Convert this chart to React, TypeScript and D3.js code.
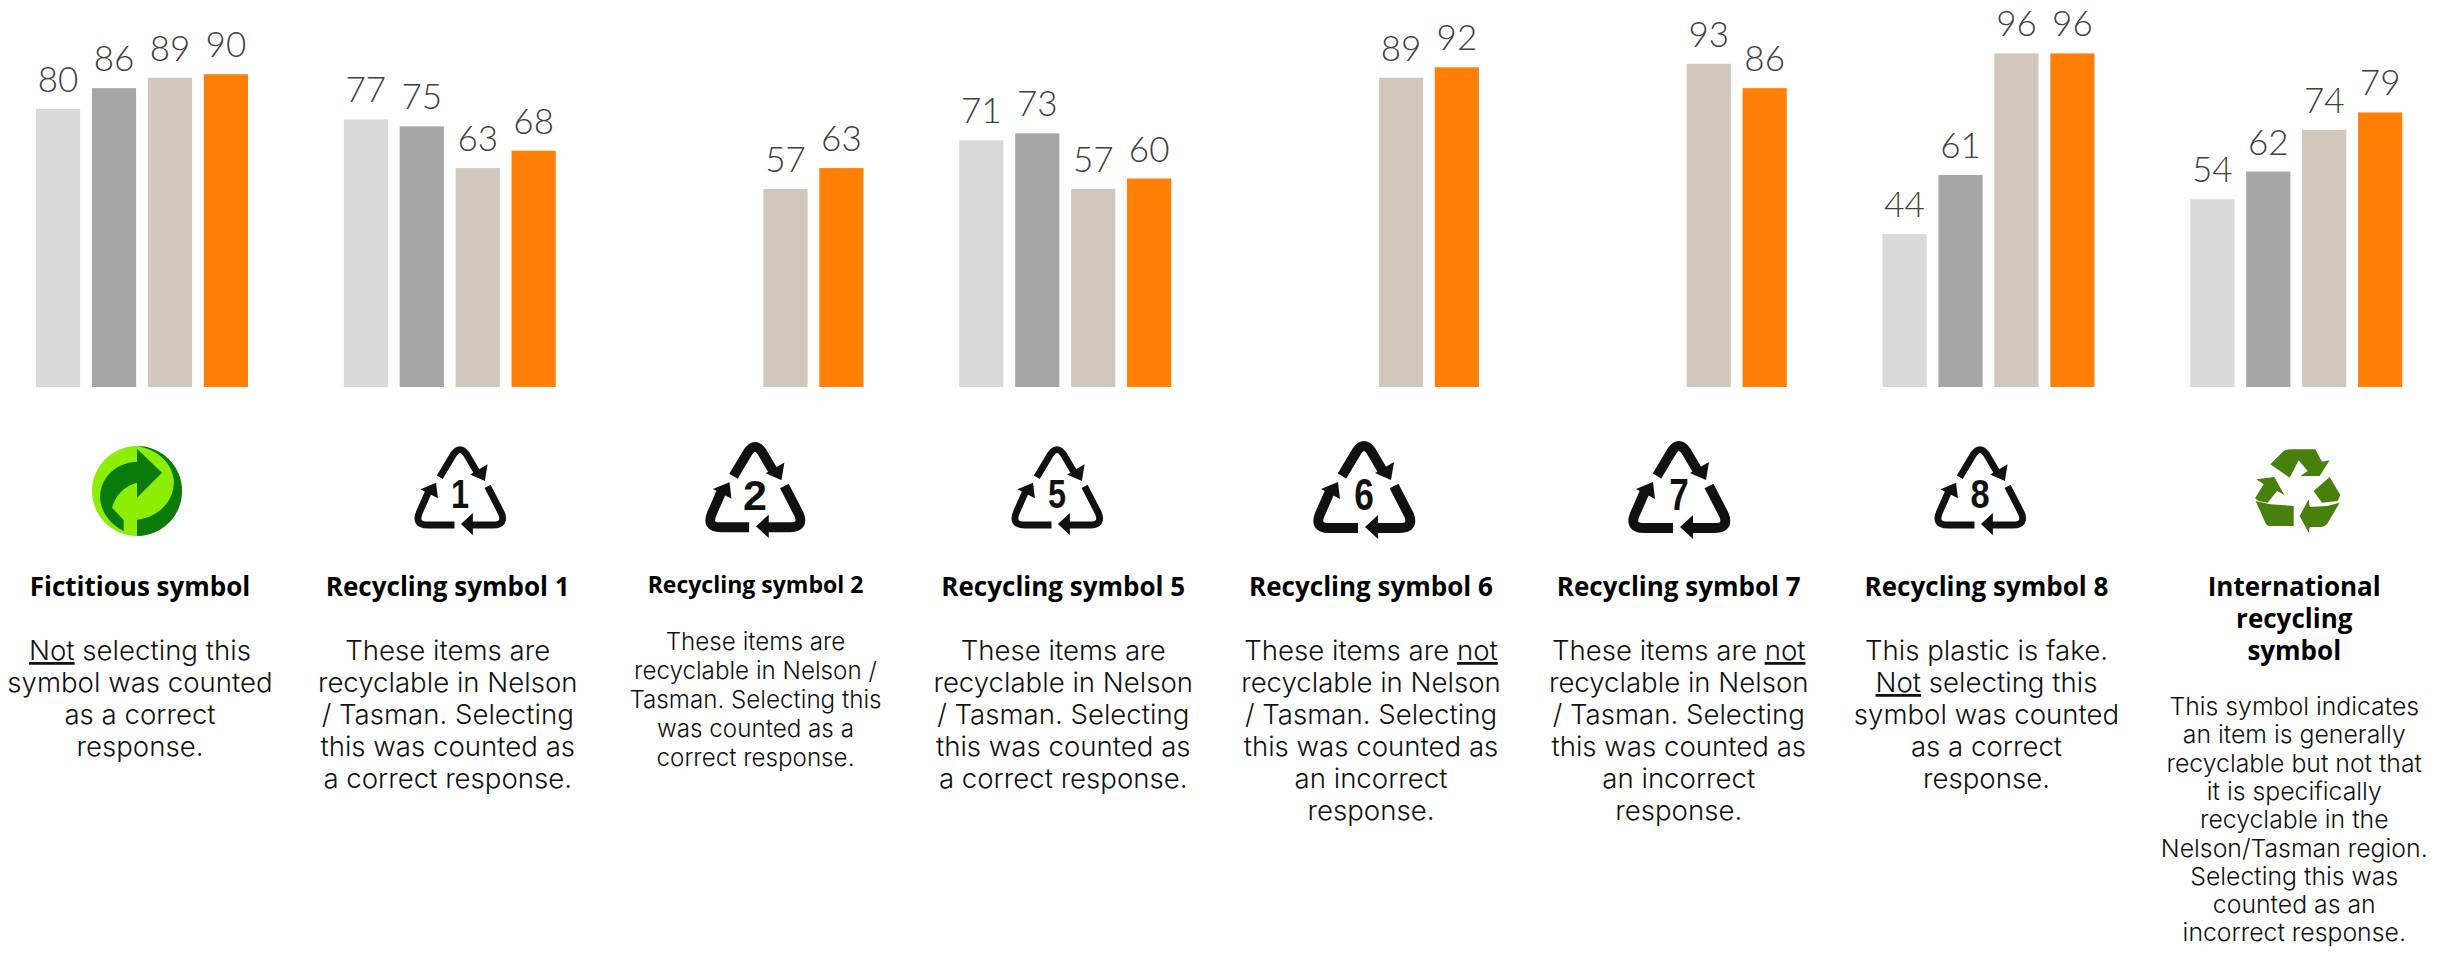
import * as d3 from "d3";

const groups = ["fictitious", "r1", "r2", "r5", "r6", "r7", "r8", "intl"];
const seriesNames = ["s1", "s2", "s3", "s4"];
const seriesColors = ["#d9d9d9", "#a6a6a6", "#d2c7bc", "#ff7f07"];

// null = no bar for that wave
const s1 = [80, 77, null, 71, null, null, 44, 54];
const s2 = [86, 75, null, 73, null, null, 61, 62];
const s3 = [89, 63, 57, 57, 89, 93, 96, 74];
const s4 = [90, 68, 63, 60, 92, 86, 96, 79];
const seriesValues = [s1, s2, s3, s4];

const titles = [
  ["Fictitious symbol"],
  ["Recycling symbol 1"],
  ["Recycling symbol 2"],
  ["Recycling symbol 5"],
  ["Recycling symbol 6"],
  ["Recycling symbol 7"],
  ["Recycling symbol 8"],
  ["International", "recycling", "symbol"],
];

// segments marked with _ are underlined
const descriptions = [
  ["_Not_ selecting this", "symbol was counted", "as a correct", "response."],
  ["These items are", "recyclable in Nelson", "/ Tasman. Selecting", "this was counted as", "a correct response."],
  ["These items are", "recyclable in Nelson /", "Tasman. Selecting this", "was counted as a", "correct response."],
  ["These items are", "recyclable in Nelson", "/ Tasman. Selecting", "this was counted as", "a correct response."],
  ["These items are _not_", "recyclable in Nelson", "/ Tasman. Selecting", "this was counted as", "an incorrect", "response."],
  ["These items are _not_", "recyclable in Nelson", "/ Tasman. Selecting", "this was counted as", "an incorrect", "response."],
  ["This plastic is fake.", "_Not_ selecting this", "symbol was counted", "as a correct", "response."],
  ["This symbol indicates", "an item is generally", "recyclable but not that", "it is specifically", "recyclable in the", "Nelson/Tasman region.", "Selecting this was", "counted as an", "incorrect response."],
];

const symbolNumbers = [null, "1", "2", "5", "6", "7", "8", null];

// symbol layout, not data
const symbolCx = [137, 460, 755, 1057, 1364, 1679, 1980, 2297];
const symbolScale = [1, 0.92, 0.98, 0.92, 1, 1, 0.92, 1];
const symbolStroke = [0, 7.5, 10, 7.5, 10, 10, 7.5, 0];
const digitSqueeze = [1, 0.8, 1, 0.8, 0.8, 0.8, 0.85, 1];
const symbolCy = 491;

const fontBody = "'Inter', 'Open Sans', sans-serif";
const fontTitle = "'Open Sans', sans-serif";
const fontNum = "'Lato', sans-serif";

const x0 = d3.scaleBand().domain(groups).range([36, 2498]);
const x1 = d3.scaleBand().domain(seriesNames).range([0, 212]).paddingInner(0.21);
const y = d3.scaleLinear().domain([0, 100]).range([387, 39.5]);

function Underlined({ line }: { line: string }) {
  const parts = line.split("_");
  return (
    <>
      {parts.map((p, i) => (
        <tspan key={i} textDecoration={i % 2 === 1 ? "underline" : undefined}>{p}</tspan>
      ))}
    </>
  );
}

function PlasticSymbol({ cx, cy, s, w, squeeze, label }: { cx: number; cy: number; s: number; w: number; squeeze: number; label: string }) {
  return (
    <g transform={`translate(${cx},${cy}) scale(${s})`}>
      <g fill="none" stroke="#111" strokeWidth={w}>
        <path d="M-22,-15 L-7,-40 Q0,-50 7,-40 L20,-18" />
        <path d="M30,-5 L45,24 Q50,37 36,37 L8,37" />
        <path d="M-6,37 L-35,37 Q-50,37 -44,23 L-33,-2" />
      </g>
      <g fill="#111">
        <path d="M27,-11 L30,-29 L11,-18 Z" />
        <path d="M1,36 L14,24 L14,48 Z" />
        <path d="M-26,-9 L-43,-2 L-24,8 Z" />
      </g>
      <text transform={`translate(0,19) scale(${squeeze},1)`} textAnchor="middle" fontFamily="'Liberation Sans', sans-serif" fontWeight={700} fontSize={44} fill="#111">{label}</text>
    </g>
  );
}

function GreenDot({ cx, cy }: { cx: number; cy: number }) {
  return (
    <g transform={`translate(${cx},${cy}) scale(0.3333) translate(-230,-185)`}>
      <circle cx={230} cy={185} r={135} fill="#8ced05" />
      <path d="M230,50 A135,135 0 0 1 230,320 L230,272 C300,262 345,210 340,150 C335,100 290,60 230,50 Z" fill="#0a7a0a" />
      <path d="M190,305 C140,280 110,230 122,180 C135,130 180,98 230,98 L230,58 L305,130 L230,205 L230,160 C190,170 165,200 155,235 L190,272 Z" fill="#0a7a0a" />
    </g>
  );
}

function InternationalSymbol({ cx, cy }: { cx: number; cy: number }) {
  return (
    <g transform={`translate(${cx},${cy}) scale(0.3333) translate(-740,-210)`} fill="#47800a">
      <path d="M660,130 L700,90 Q708,85 720,85 L795,85 L815,122 L838,118 L808,165 L750,165 L772,150 L745,118 L718,170 Z" />
      <path d="M790,210 L838,168 L870,222 L862,240 L815,245 Z" />
      <path d="M868,245 L830,310 Q822,318 812,318 L778,318 L775,335 L748,285 L775,235 L778,258 L830,255 Z" />
      <path d="M614,232 L640,190 L618,175 L672,168 L702,222 L680,210 L652,245 L625,240 Z" />
      <path d="M616,240 L660,250 L730,255 L730,315 L660,315 Q650,315 645,305 Z" />
    </g>
  );
}

export default function App() {
  return (
    <svg width={2445} height={953} style={{ position: "absolute", left: 0, top: 0, background: "#fff" }}>
      {groups.map((g, gi) => {
        const gx = x0(g)!;
        const center = gx + 104;
        const small = gi === 2;
        const intl = gi === 7;
        const titleY = small ? 593 : 596;
        const titleSize = small ? 23 : 26;
        const bodyStart = intl ? 715 : small ? 650 : 660;
        const bodyStep = small ? 29 : intl ? 28.3 : 32;
        const bodySize = small ? 24.2 : intl ? 24.8 : 27.6;
        const num = symbolNumbers[gi];
        return (
          <g key={g}>
            {seriesNames.map((s, si) => {
              const v = seriesValues[si][gi];
              if (v === null) return null;
              const bx = gx + x1(s)!;
              return (
                <g key={s}>
                  <rect x={bx} y={y(v)} width={x1.bandwidth()} height={y(0) - y(v)} fill={seriesColors[si]} />
                  <text x={bx + x1.bandwidth() / 2} y={y(v) - 17} textAnchor="middle" fontFamily={fontNum} fontWeight={300} fontSize={35} fill="#404040">{v}</text>
                </g>
              );
            })}
            {num !== null && (
              <PlasticSymbol cx={symbolCx[gi]} cy={symbolCy} s={symbolScale[gi]} w={symbolStroke[gi]} squeeze={digitSqueeze[gi]} label={num} />
            )}
            {gi === 0 && <GreenDot cx={symbolCx[gi]} cy={symbolCy} />}
            {intl && <InternationalSymbol cx={symbolCx[gi]} cy={symbolCy} />}
            {titles[gi].map((t, i) => (
              <text key={i} x={center} y={titleY + i * 32} textAnchor="middle" fontFamily={fontTitle} fontWeight={700} fontSize={titleSize} fill="#000">{t}</text>
            ))}
            {descriptions[gi].map((t, i) => (
              <text key={i} x={center} y={bodyStart + i * bodyStep} textAnchor="middle" fontFamily={fontBody} fontWeight={300} fontSize={bodySize} fill="#111">
                <Underlined line={t} />
              </text>
            ))}
          </g>
        );
      })}
    </svg>
  );
}
